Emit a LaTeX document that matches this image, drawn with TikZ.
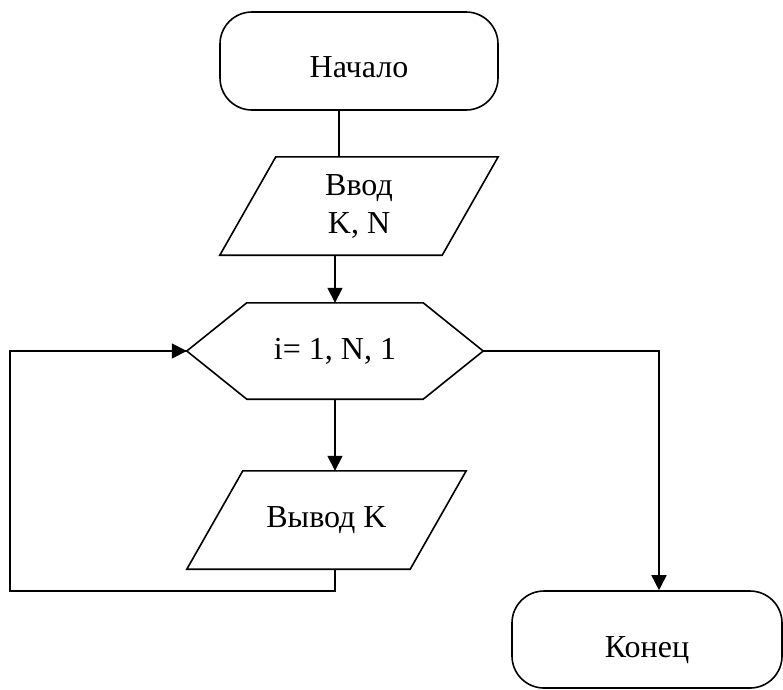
\documentclass[tikz,border=0pt]{standalone}
\usepackage{fontspec}
\setmainfont{Liberation Serif}
\usetikzlibrary{calc,arrows.meta}
\begin{document}
\begin{tikzpicture}[x=1pt,y=-1pt,
  every node/.style={font=\fontsize{32}{38}\selectfont, inner sep=0pt},
  outline/.style={line width=1.6pt, line join=miter},
  terminal/.style={outline, draw, rounded corners=32pt, text depth=0pt},
  body/.style={minimum width=#1, minimum height=98pt, align=center},
  flow/.style={line width=1.6pt},
  arrow/.style={flow, -{Triangle[length=15pt,width=15pt]}}]
\useasboundingbox (0,0) rectangle (783,689);

% start terminal
\node[terminal, text height=32pt, minimum width=278pt, minimum height=98pt] (start) at (359,61) {Начало};

% input block (parallelogram around a plain body box)
\node[body=222pt] (in) at (359,206) {Ввод\\K, N};
\draw[outline] ($(in.north west)+(28,0)$) -- ($(in.north east)+(28,0)$)
  -- ($(in.south east)+(-28,0)$) -- ($(in.south west)+(-28,0)$) -- cycle;

% loop header (hexagon)
\node[minimum width=176pt, minimum height=96pt] (loop) at (335,351) {i= 1, N, 1};
\coordinate (loopW) at ($(loop.west)+(-60,0)$);
\coordinate (loopE) at ($(loop.east)+(60,0)$);
\draw[outline] (loopW) -- (loop.north west) -- (loop.north east) -- (loopE)
  -- (loop.south east) -- (loop.south west) -- cycle;

% output block
\node[body=223pt] (out) at (326.5,520) {Вывод K};
\draw[outline] ($(out.north west)+(28,0)$) -- ($(out.north east)+(28,0)$)
  -- ($(out.south east)+(-28,0)$) -- ($(out.south west)+(-28,0)$) -- cycle;

% end terminal
\node[terminal, text height=35pt, minimum width=270pt, minimum height=97pt] (end) at (647,639.5) {Конец};

% connectors
\draw[flow] ($(start.south)+(-20,0)$) -- ($(in.north)+(-20,0)$);
\draw[arrow] ($(in.south)+(-24,0)$) -- (loop.north);
\draw[arrow] (loop.south) -- (out.north -| loop.south);
\coordinate (back) at (10,591);
\draw[flow] (out.south -| loop.south) |- (back) |- (loopW);
\draw[arrow] ($(back |- loopW)+(-0.8,0)$) -- (loopW);
\draw[arrow] (loopE) -| (end.north -| 659,0);
\end{tikzpicture}
\end{document}
